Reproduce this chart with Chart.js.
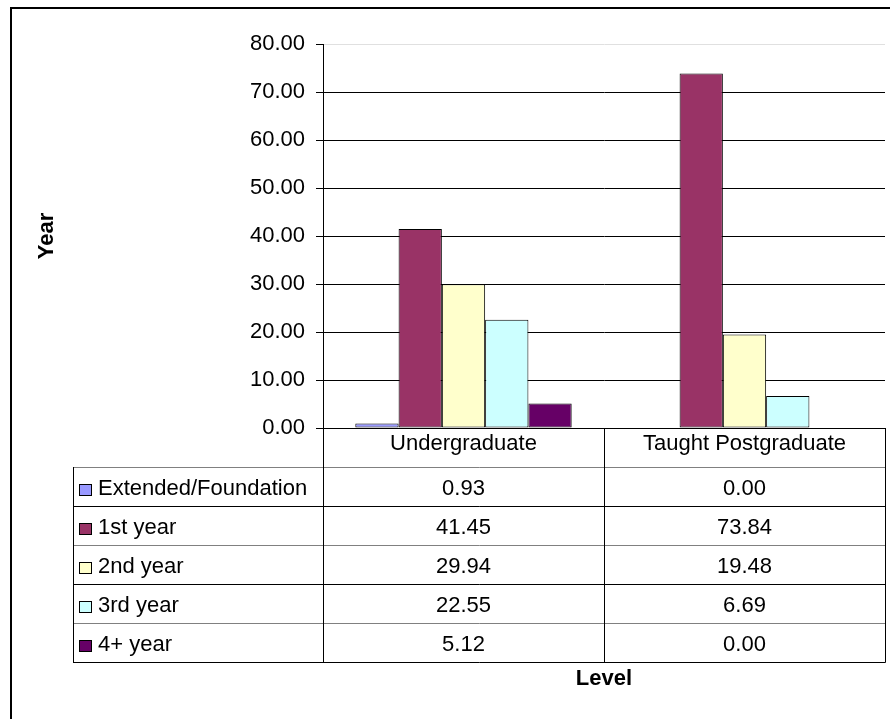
<!DOCTYPE html>
<html>
<head>
<meta charset="utf-8">
<title>Year by Level</title>
<script src="https://cdn.jsdelivr.net/npm/chart.js@4/dist/chart.umd.min.js"></script>
<style>
  html, body { margin: 0; padding: 0; background: #fff; }
  canvas { display: block; }
</style>
</head>
<body>
<canvas id="levelChart" width="890" height="719"></canvas>
<script>
/* ── Datos ─────────────────────────────────────────── */
var levels       = ['Undergraduate', 'Taught Postgraduate'];
var seriesNames  = ['Extended/Foundation', '1st year', '2nd year', '3rd year', '4+ year'];
var extendedVals = [0.93, 0.00];
var firstVals    = [41.45, 73.84];
var secondVals   = [29.94, 19.48];
var thirdVals    = [22.55, 6.69];
var fourthVals   = [5.12, 0.00];
var yMin = 0, yMax = 80, yStep = 10;

var seriesData   = [extendedVals, firstVals, secondVals, thirdVals, fourthVals];
var seriesColors = ['#9999FF', '#993366', '#FFFFCC', '#CCFFFF', '#660066'];

var FONT = 'Arial, "Liberation Sans", sans-serif';
var FS = 22;

/* ── Tabla de datos + marco (plugin) ───────────────── */
var tablePlugin = {
  id: 'dataTable',
  afterDraw: function (chart) {
    var c = chart.ctx, a = chart.chartArea, xs = chart.scales.x;
    var headH = 39, rowH = 39, tLeft = 73;
    var top = a.bottom + headH;
    var bottom = top + rowH * seriesNames.length;
    var colW = (a.right - a.left) / levels.length;

    function line(x1, y1, x2, y2) {
      c.beginPath(); c.moveTo(x1, y1); c.lineTo(x2, y2); c.stroke();
    }

    c.save();
    c.lineWidth = 1;

    // líneas horizontales
    for (var i = 0; i <= seriesNames.length; i++) {
      var y = Math.round(top + i * rowH) + 0.5;
      c.strokeStyle = i % 2 ? '#000' : '#808080';
      line(tLeft, y, a.right + 0.5, y);
    }
    // verticales
    c.strokeStyle = '#000';
    line(tLeft + 0.5, top, tLeft + 0.5, bottom + 0.5);
    for (var k = 0; k <= levels.length; k++) {
      var vx = Math.round(a.left + k * colW) + 0.5;
      line(vx, a.bottom, vx, bottom + 0.5);
    }

    // leyenda + valores
    c.font = FS + 'px ' + FONT;
    c.textBaseline = 'alphabetic';
    for (var s = 0; s < seriesNames.length; s++) {
      var rt = Math.round(top + s * rowH);
      c.fillStyle = seriesColors[s];
      c.fillRect(79, rt + 17, 13, 12);
      c.strokeStyle = '#000';
      c.strokeRect(79.5, rt + 17.5, 12, 11);
      c.fillStyle = '#000';
      c.textAlign = 'left';
      c.fillText(seriesNames[s], 98, rt + 28);
      c.textAlign = 'center';
      for (var j = 0; j < levels.length; j++) {
        c.fillText(seriesData[s][j].toFixed(2), xs.getPixelForValue(j), rt + 28);
      }
    }

    // marco exterior
    c.lineWidth = 2;
    c.strokeStyle = '#000';
    c.beginPath();
    c.moveTo(11, 722); c.lineTo(11, 8); c.lineTo(892, 8);
    c.stroke();
    c.restore();
  }
};

/* ── Gráfico ───────────────────────────────────────── */
new Chart(document.getElementById('levelChart'), {
  type: 'bar',
  data: {
    labels: levels,
    datasets: seriesNames.map(function (n, i) {
      return {
        label: n, data: seriesData[i],
        backgroundColor: seriesColors[i],
        borderColor: '#000', borderWidth: 1, borderSkipped: false,
        categoryPercentage: 0.77, barPercentage: 1.0
      };
    })
  },
  options: {
    responsive: false,
    animation: false,
    layout: { padding: { top: 44, right: 5, bottom: 0, left: 0 } },
    plugins: { legend: { display: false }, tooltip: { enabled: false } },
    scales: {
      x: {
        grid: { display: false, drawTicks: false },
        border: { display: true, color: '#000', width: 1 },
        ticks: { color: '#000', padding: 3, font: { family: FONT, size: FS }, maxRotation: 0 },
        title: { display: true, text: 'Level', color: '#000',
                 font: { family: FONT, size: FS, weight: 'bold' }, padding: { top: 0, bottom: 27 } },
        afterFit: function (s) { s.height = 291; }
      },
      y: {
        min: yMin, max: yMax,
        grid: {
          color: function (ctx) { return ctx.tick && ctx.tick.value === yMax ? '#e0e0e0' : '#000'; },
          tickColor: '#000', tickLength: 7, lineWidth: 1
        },
        border: { display: true, color: '#000', width: 1 },
        ticks: {
          stepSize: yStep, color: '#000', padding: 11,
          font: { family: FONT, size: FS },
          callback: function (v) { return Number(v).toFixed(2); }
        },
        title: { display: true, text: 'Year', color: '#000',
                 font: { family: FONT, size: FS, weight: 'bold' }, padding: { top: 34, bottom: 0 } },
        afterFit: function (s) { s.width = 323; }
      }
    }
  },
  plugins: [tablePlugin]
});
</script>
</body>
</html>
